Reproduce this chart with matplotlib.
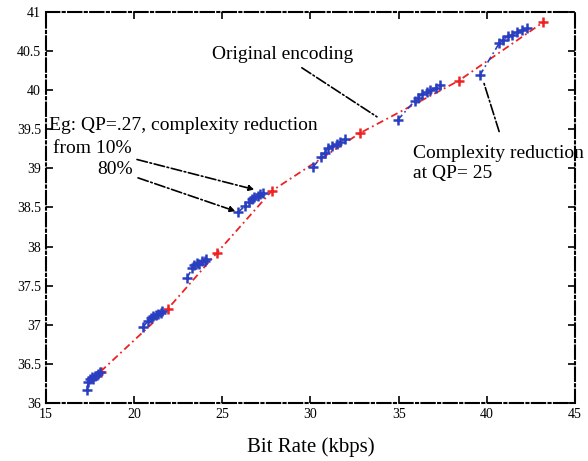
import matplotlib.pyplot as plt

plt.rcParams['font.family'] = ['Liberation Serif', 'DejaVu Serif']

# Original encoding (red)
orig_rate = [18.1, 21.9, 24.7, 27.8, 32.8, 38.4, 43.2]
orig_psnr = [36.40, 37.20, 37.92, 38.71, 39.45, 40.12, 40.87]

# Complexity reduction clusters (blue), one per QP
red_rate = [
	[17.35, 17.4, 17.5, 17.6, 17.7, 17.8, 17.95, 18.05],
	[20.5, 20.8, 20.95, 21.1, 21.25, 21.35, 21.5, 21.6],
	[23.0, 23.3, 23.4, 23.55, 23.7, 23.85, 24.0, 24.1],
	[25.9, 26.3, 26.5, 26.7, 26.8, 27.0, 27.15, 27.3],
	[30.15, 30.6, 30.8, 31.0, 31.2, 31.5, 31.7, 31.95],
	[34.95, 35.9, 36.1, 36.3, 36.6, 36.8, 37.1, 37.35],
	[39.6, 40.7, 40.9, 41.2, 41.4, 41.7, 42.0, 42.3],
]
red_psnr = [
	[36.17, 36.27, 36.3, 36.33, 36.31, 36.35, 36.37, 36.39],
	[36.97, 37.05, 37.08, 37.11, 37.13, 37.14, 37.15, 37.17],
	[37.60, 37.72, 37.76, 37.79, 37.78, 37.81, 37.82, 37.84],
	[38.44, 38.52, 38.57, 38.61, 38.63, 38.65, 38.67, 38.69],
	[39.02, 39.14, 39.2, 39.26, 39.28, 39.31, 39.34, 39.38],
	[39.62, 39.86, 39.9, 39.95, 39.98, 40.0, 40.03, 40.07],
	[40.19, 40.60, 40.64, 40.69, 40.71, 40.74, 40.77, 40.80],
]

fig, ax = plt.subplots(figsize=(5.88, 4.61), dpi=100)
fig.subplots_adjust(left=0.078, right=0.978, bottom=0.126, top=0.974)

dashdot = (0, (4, 2, 1, 2))

ax.plot(orig_rate, orig_psnr, color='#ee2222', linestyle=dashdot, linewidth=1.3,
		marker='+', markersize=7, markeredgewidth=1.8, zorder=1)

for xs, ys in zip(red_rate, red_psnr):
	ax.plot(xs, ys, color='#2a3fbf', linestyle=dashdot, linewidth=1.2,
			marker='+', markersize=7, markeredgewidth=1.8, zorder=2)

ax.set_xlim(15, 45)
ax.set_ylim(36, 41)
ax.set_xticks([15, 20, 25, 30, 35, 40, 45])
ax.set_yticks([36, 36.5, 37, 37.5, 38, 38.5, 39, 39.5, 40, 40.5, 41])
ax.set_yticklabels(['36', '36.5', '37', '37.5', '38', '38.5', '39', '39.5', '40', '40.5', '41'])
ax.tick_params(direction='in', top=True, right=True, labelsize=10, length=5, width=1.2)

for sp in ax.spines.values():
	sp.set_linestyle('-.')
	sp.set_linewidth(1.5)

ax.set_xlabel('Bit Rate (kbps)', fontsize=15, labelpad=12)

arrow_line = dict(arrowstyle='-', linestyle='-.', color='black', lw=1.2)
arrow_head = dict(arrowstyle='-|>', linestyle='-.', color='black', lw=1.2, mutation_scale=8)

ax.annotate('Original encoding', xy=(33.9, 39.64), xytext=(28.4, 40.45),
			fontsize=14, ha='center', va='center', arrowprops=arrow_line)
ax.annotate('Complexity reduction\nat QP= 25', xy=(39.75, 40.15), xytext=(35.8, 39.3),
			fontsize=14, ha='left', va='top', linespacing=1.25,
			arrowprops=dict(arrowstyle='-', linestyle='-.', color='black', lw=1.2,
							relpos=(0.53, 1.0), shrinkA=8))

ax.text(15.2, 39.55, 'Eg: QP=.27, complexity reduction', fontsize=14, ha='left', va='center')
ax.annotate('from 10%', xy=(26.97, 38.72), xytext=(15.4, 39.26),
			fontsize=14, ha='left', va='center', arrowprops=arrow_head)
ax.annotate('80%', xy=(25.9, 38.44), xytext=(17.9, 38.98),
			fontsize=14, ha='left', va='center', arrowprops=arrow_head)

plt.savefig('out.png', dpi=100)
